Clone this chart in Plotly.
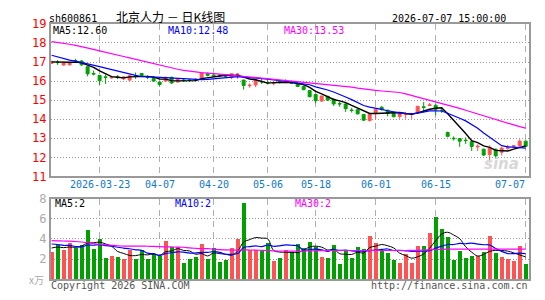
import plotly.graph_objects as go

dates = ["2026-03-11","2026-03-12","2026-03-13","2026-03-16","2026-03-17","2026-03-18","2026-03-19","2026-03-20",
         "2026-03-23","2026-03-24","2026-03-25","2026-03-26","2026-03-27",
         "2026-03-30","2026-03-31","2026-04-01","2026-04-02","2026-04-03",
         "2026-04-07","2026-04-08","2026-04-09","2026-04-10",
         "2026-04-13","2026-04-14","2026-04-15","2026-04-16","2026-04-17",
         "2026-04-20","2026-04-21","2026-04-22","2026-04-23","2026-04-24",
         "2026-04-27","2026-04-28","2026-04-29","2026-04-30",
         "2026-05-06","2026-05-07","2026-05-08",
         "2026-05-11","2026-05-12","2026-05-13","2026-05-14","2026-05-15",
         "2026-05-18","2026-05-19","2026-05-20","2026-05-21","2026-05-22",
         "2026-05-25","2026-05-26","2026-05-27","2026-05-28","2026-05-29",
         "2026-06-01","2026-06-02","2026-06-03","2026-06-04","2026-06-05",
         "2026-06-08","2026-06-09","2026-06-10","2026-06-11","2026-06-12",
         "2026-06-15","2026-06-16","2026-06-17","2026-06-18",
         "2026-06-22","2026-06-23","2026-06-24","2026-06-25","2026-06-26",
         "2026-06-29","2026-06-30","2026-07-01","2026-07-02","2026-07-03",
         "2026-07-06","2026-07-07"]

opens = [16.93,16.99,16.84,16.85,17.06,17.05,16.75,16.40,16.30,16.22,
         16.17,16.22,16.12,16.05,16.26,16.40,16.23,16.13,15.95,16.00,
         16.20,15.95,16.05,16.05,16.08,16.13,16.38,16.32,16.30,16.30,
         16.20,16.34,16.05,15.76,15.80,15.98,15.93,15.87,16.00,15.99,
         15.98,15.90,15.72,15.50,15.30,14.95,15.20,15.05,14.82,14.80,
         14.48,14.50,14.25,13.93,14.30,14.63,14.47,14.33,14.15,14.24,
         14.25,14.33,14.65,14.72,14.73,14.47,13.30,13.00,12.98,12.90,
         12.82,12.55,12.43,12.15,12.43,12.27,12.48,12.58,12.60,12.85]

highs = [17.06,17.10,16.97,17.00,17.17,17.10,16.77,16.55,16.32,16.35,
         16.22,16.32,16.25,16.32,16.45,16.42,16.30,16.25,15.97,16.22,
         16.22,16.15,16.12,16.12,16.15,16.42,16.45,16.35,16.38,16.35,
         16.40,16.42,16.07,15.88,16.05,16.15,16.05,15.95,16.05,16.10,
         16.02,15.95,15.77,15.52,15.32,15.22,15.22,15.08,14.92,14.82,
         14.60,14.52,14.27,14.27,14.55,14.68,14.50,14.35,14.33,14.38,
         14.32,14.68,14.90,14.85,14.78,14.62,13.35,13.10,13.00,13.05,
         12.85,12.68,12.45,12.63,12.45,12.55,12.65,12.65,12.95,12.88]

lows = [16.90,16.85,16.82,16.83,16.95,16.80,16.25,16.30,15.77,15.85,
        16.12,16.10,16.05,16.02,16.12,16.28,16.10,15.98,15.70,15.98,
        15.85,15.93,15.95,15.95,16.00,16.10,16.25,16.22,16.22,16.20,
        16.10,16.12,15.55,15.65,15.68,15.85,15.85,15.78,15.88,15.88,
        15.85,15.70,15.52,15.15,14.83,14.93,14.98,14.70,14.65,14.38,
        14.35,14.25,13.90,13.88,14.00,14.45,14.15,14.10,14.02,14.02,
        14.02,14.30,14.35,14.68,14.20,14.33,13.05,12.88,12.55,12.70,
        12.33,12.33,12.07,11.73,11.93,12.10,12.40,12.52,12.55,12.55]

closes = [17.03,16.97,16.95,16.97,17.04,16.85,16.38,16.37,16.02,16.20,
          16.20,16.20,16.22,16.28,16.24,16.30,16.20,16.00,15.82,16.20,
          15.90,16.12,16.02,16.03,16.05,16.42,16.30,16.28,16.28,16.25,
          16.38,16.36,15.77,15.78,16.05,15.96,15.91,15.89,15.92,16.01,
          15.88,15.72,15.55,15.18,14.97,15.22,15.00,14.80,14.80,14.55,
          14.46,14.28,13.95,14.27,14.52,14.52,14.30,14.13,14.30,14.26,
          14.30,14.68,14.62,14.75,14.52,14.45,13.10,12.98,12.85,12.88,
          12.57,12.58,12.12,12.48,12.08,12.48,12.50,12.60,12.85,12.58]

# closes of the 9 sessions before the visible window (needed for MA5/MA10)
prior_closes = [17.9, 17.8, 17.7, 17.6, 17.5, 17.05, 17.0, 16.95, 17.0]

price_ma30 = [18.07,18.03,17.98,17.93,17.87,17.81,17.74,17.66,17.58,17.50,
              17.43,17.36,17.29,17.22,17.14,17.06,16.98,16.90,16.83,16.76,
              16.69,16.62,16.56,16.51,16.47,16.44,16.42,16.40,16.37,16.34,
              16.31,16.28,16.25,16.22,16.18,16.15,16.12,16.09,16.06,16.03,
              16.00,15.97,15.94,15.91,15.88,15.85,15.82,15.79,15.76,15.72,
              15.68,15.63,15.58,15.54,15.51,15.48,15.46,15.45,15.40,15.33,
              15.25,15.15,15.05,14.97,14.90,14.83,14.75,14.66,14.57,14.47,
              14.37,14.27,14.17,14.07,13.97,13.88,13.79,13.70,13.61,13.53]

volumes = [2.74,3.46,2.90,3.65,3.11,3.43,4.90,3.02,4.00,2.17,
           2.36,2.26,2.08,2.99,2.08,2.90,2.08,2.52,2.33,3.87,
           3.27,3.21,1.67,2.05,2.26,3.58,2.05,3.11,1.76,1.95,
           3.11,4.06,7.60,2.96,2.99,2.83,3.68,1.86,2.17,2.90,
           2.74,3.58,3.11,3.74,3.27,2.26,2.17,3.46,1.57,2.99,
           2.17,3.27,3.02,4.31,3.68,2.99,2.65,1.95,1.70,2.52,
           1.70,3.33,3.33,4.59,6.20,5.00,4.21,1.95,2.80,2.17,
           2.33,2.33,2.74,4.31,2.65,2.26,2.05,1.86,3.33,1.57]

prior_volumes = [4.0, 3.8, 3.6, 4.2, 3.9, 3.0, 3.2, 3.3, 3.3]

vol_ma30 = [3.84,3.82,3.80,3.78,3.75,3.70,3.63,3.55,3.48,3.43,
            3.38,3.33,3.30,3.30,3.29,3.29,3.28,3.27,3.24,3.22,
            3.21,3.20,3.18,3.12,3.08,3.05,3.04,3.00,2.95,2.92,
            2.90,2.90,2.92,2.91,2.90,2.88,2.86,2.82,2.81,2.81,
            2.80,2.80,2.81,2.82,2.84,2.85,2.86,2.86,2.86,2.86,
            2.86,2.86,2.86,2.86,2.86,2.86,2.86,2.86,2.86,2.86,
            2.87,2.88,2.90,2.93,2.96,2.98,2.99,2.99,2.99,2.99,
            2.99,2.99,2.99,2.99,2.99,2.99,2.99,2.99,2.99,2.99]

tick_dates = ["2026-03-23","2026-04-07","2026-04-20","2026-05-06","2026-05-18","2026-06-01","2026-06-15","2026-07-07"]
tick_labels = ["2026-03-23","04-07","04-20","05-06","05-18","06-01","06-15","07-07"]

title_code = "sh600861"
title_name = "北京人力 － 日K线图"
title_time = "2026-07-07 15:00:00"


def moving_avg(prior, vals, n):
    allv = prior + vals
    off = len(prior)
    return [sum(allv[k - n + 1:k + 1]) / n for k in range(off, len(allv))]


ma5 = moving_avg(prior_closes, closes, 5)
ma10 = moving_avg(prior_closes, closes, 10)
vma5 = moving_avg(prior_volumes, volumes, 5)
vma10 = moving_avg(prior_volumes, volumes, 10)

RED = "#ff5252"
GREEN = "#00a000"
MONO = "DejaVu Sans Mono"
W, H = 545, 300

vol_colors = [RED if c > o else GREEN for o, c in zip(opens, closes)]

fig = go.Figure()
fig.add_trace(go.Candlestick(
    x=dates, open=opens, high=highs, low=lows, close=closes,
    increasing=dict(line=dict(color=RED, width=1), fillcolor=RED),
    decreasing=dict(line=dict(color=GREEN, width=1), fillcolor=GREEN),
    whiskerwidth=0, xaxis="x", yaxis="y", hoverinfo="skip"))
fig.add_trace(go.Scatter(x=dates, y=ma5, mode="lines", line=dict(color="black", width=1.4),
                         xaxis="x", yaxis="y", hoverinfo="skip"))
fig.add_trace(go.Scatter(x=dates, y=ma10, mode="lines", line=dict(color="#0000ff", width=1.2),
                         xaxis="x", yaxis="y", hoverinfo="skip"))
fig.add_trace(go.Scatter(x=dates, y=price_ma30, mode="lines", line=dict(color="#ff00ff", width=1.2),
                         xaxis="x", yaxis="y", hoverinfo="skip"))

fig.add_trace(go.Bar(x=dates, y=volumes, marker=dict(color=vol_colors, line=dict(width=0)),
                     width=0.8, xaxis="x2", yaxis="y2", hoverinfo="skip"))
fig.add_trace(go.Scatter(x=dates, y=vma5, mode="lines", line=dict(color="black", width=1, shape="spline"),
                         xaxis="x2", yaxis="y2", hoverinfo="skip"))
fig.add_trace(go.Scatter(x=dates, y=vma10, mode="lines", line=dict(color="#0000ff", width=1.2, shape="spline"),
                         xaxis="x2", yaxis="y2", hoverinfo="skip"))
fig.add_trace(go.Scatter(x=dates, y=vol_ma30, mode="lines", line=dict(color="#ff00ff", width=1.2, shape="spline"),
                         xaxis="x2", yaxis="y2", hoverinfo="skip"))

x_dom = [50.7 / W, 529 / W]
xcommon = dict(type="category", range=[-0.15, 79.55], domain=x_dom,
               tickmode="array", tickvals=tick_dates, showticklabels=False,
               showgrid=True, gridcolor="#b0b0b0", griddash="6px,5px", gridwidth=1,
               showline=True, linecolor="#999999", linewidth=1.5, mirror=True,
               zeroline=False, fixedrange=True)

fig.update_layout(
    width=W, height=H,
    margin=dict(l=0, r=0, t=0, b=0),
    paper_bgcolor="white", plot_bgcolor="white",
    showlegend=False, bargap=0,
    xaxis=dict(**xcommon, anchor="y", rangeslider=dict(visible=False)),
    xaxis2=dict(**xcommon, anchor="y2"),
    yaxis=dict(domain=[1 - 177.7 / H, 1 - 17.7 / H], range=[11, 19], dtick=1,
               tickfont=dict(family=MONO, size=12, color="#ff0000"),
               showgrid=True, gridcolor="#999999", griddash="1px,2px",
               showline=True, linecolor="#999999", linewidth=1.5, mirror=True,
               zeroline=False, ticks="", fixedrange=True),
    yaxis2=dict(domain=[1 - 285.7 / H, 1 - 201 / H], range=[0, 8],
                tickvals=[2, 4, 6, 8],
                tickfont=dict(family=MONO, size=12, color="#aaaaaa"),
                showgrid=True, gridcolor="#999999", griddash="1px,2px",
                showline=True, linecolor="#999999", linewidth=1.5, mirror=True,
                zeroline=False, ticks="", fixedrange=True),
)

ann = []


def txt(text, px, py, color="black", size=10, anchor="left", family=MONO):
    ann.append(dict(text=text, x=px / W, y=1 - py / H, xref="paper", yref="paper",
                    xanchor=anchor, yanchor="middle", showarrow=False,
                    font=dict(family=family, size=size, color=color)))


txt(title_code, 47, 12)
txt(title_name, 114, 9.5, size=12, family="Noto Sans CJK SC")
txt(title_time, 508, 12, anchor="right")
txt("MA5:" + f"{ma5[-1]:.2f}", 51, 24.5)
txt("MA10:" + f"{ma10[-1]:.2f}", 166, 24.5, color="#0000ff")
txt("MA30:" + f"{price_ma30[-1]:.2f}", 282, 24.5, color="#ff00ff")
txt("MA5:" + f"{int(vma5[-1])}", 53, 206)
txt("MA10:" + f"{int(vma10[-1])}", 173, 206, color="#0000ff")
txt("MA30:" + f"{int(vol_ma30[-1])}", 293, 206, color="#ff00ff")
txt("x万", 27, 286, color="#aaaaaa", size=10, family="Noto Sans CJK SC")
txt("Copyright 2026 SINA.COM", 49, 292, color="#555555")
txt("http://finance.sina.com.cn", 530, 292, color="#555555", anchor="right")
txt("<b><i>sina</i></b>", 482, 165, color="#d8d8d8", size=15, family="DejaVu Sans")

for d, lab in zip(tick_dates, tick_labels):
    last = d == tick_dates[-1]
    ann.append(dict(text=lab, x=d, y=1 - 186 / H, xref="x", yref="paper",
                    xanchor="right" if last else "center", yanchor="middle",
                    xshift=1 if last else 0, showarrow=False,
                    font=dict(family=MONO, size=10, color="#1278c8")))

fig.update_layout(annotations=ann)
fig.write_html("out.html", config={"displayModeBar": False})
